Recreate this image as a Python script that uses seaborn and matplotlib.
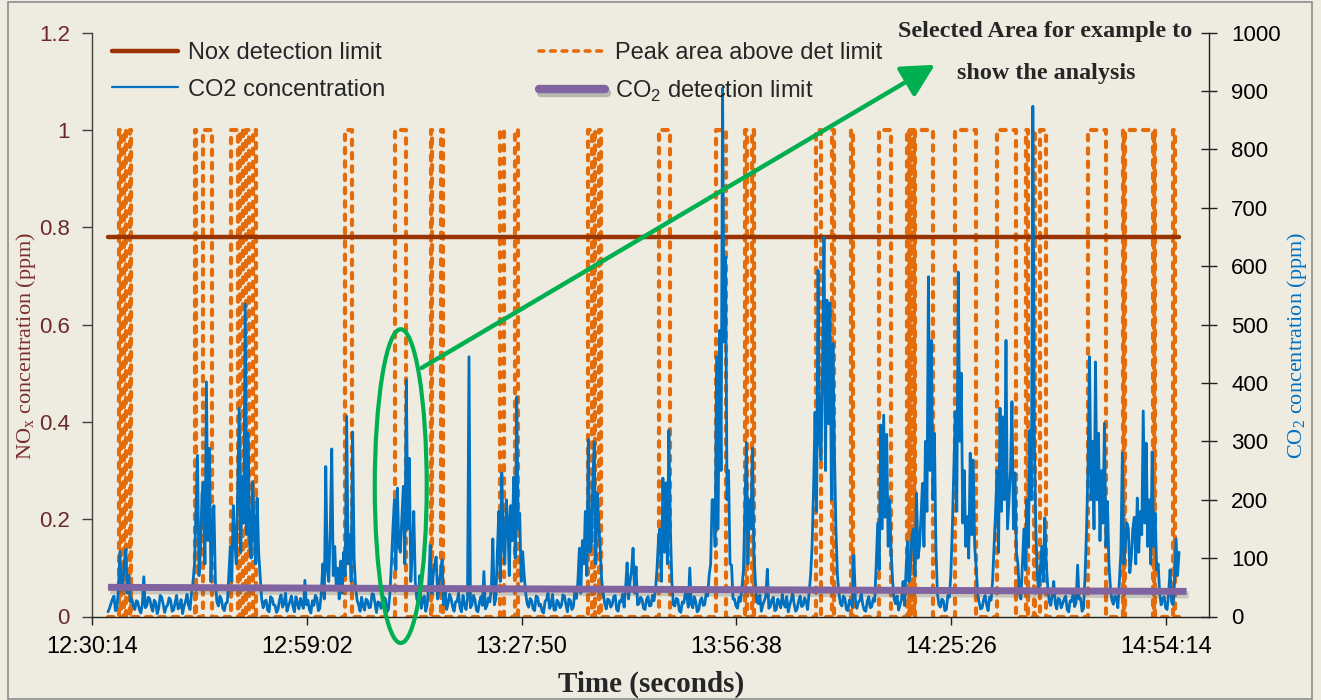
import matplotlib
matplotlib.use("Agg")
import numpy as np
import pandas as pd
import matplotlib.pyplot as plt
import matplotlib.patheffects as pe
from matplotlib.patches import Ellipse, Rectangle
from matplotlib.lines import Line2D
from matplotlib.ticker import FixedLocator, FuncFormatter
import seaborn as sns

# ---------------------------------------------------------------- data
# CO2 analyser log: one reading every 12 s starting at 12:32:23 (ppm)
co2_start = "12:32:23"
co2_step_s = 12
co2_ppm = [
    8, 14, 22, 30, 35, 10, 15, 48, 111, 45, 60, 95, 115, 40, 70, 25, 30, 18, 12, 27,
    25, 12, 6, 20, 68, 15, 18, 33, 30, 17, 9, 28, 24, 5, 14, 36, 33, 21, 7, 16,
    20, 32, 28, 9, 11, 24, 36, 13, 16, 29, 5, 18, 26, 38, 19, 12, 40, 60, 90, 180,
    276, 70, 110, 210, 230, 90, 402, 130, 288, 60, 150, 190, 60, 25, 18, 35, 30, 14, 10, 23,
    24, 70, 120, 60, 190, 130, 90, 220, 357, 110, 240, 160, 535, 140, 314, 120, 100, 230, 150, 90,
    203, 110, 70, 30, 15, 26, 28, 11, 8, 34, 31, 20, 19, 7, 12, 29, 37, 16, 22, 40,
    9, 18, 26, 35, 17, 8, 34, 23, 13, 31, 21, 14, 62, 20, 28, 12, 6, 27, 19, 36,
    32, 10, 14, 40, 90, 30, 257, 80, 60, 150, 287, 70, 120, 50, 83, 30, 95, 40, 110, 70,
    343, 90, 140, 60, 316, 100, 50, 28, 20, 9, 33, 18, 11, 30, 27, 15, 16, 39, 38, 22,
    7, 25, 24, 14, 18, 33, 30, 8, 12, 40, 90, 150, 200, 80, 220, 120, 110, 170, 223, 90,
    405, 150, 271, 60, 110, 180, 60, 30, 25, 70, 14, 28, 35, 9, 20, 55, 122, 40, 70, 90,
    102, 30, 60, 75, 97, 20, 45, 12, 22, 38, 31, 17, 9, 25, 26, 40, 15, 8, 36, 21,
    12, 30, 445, 15, 20, 36, 29, 11, 8, 24, 34, 19, 77, 13, 18, 32, 25, 50, 133, 20,
    30, 110, 180, 60, 246, 120, 90, 200, 165, 70, 190, 130, 239, 100, 376, 150, 177, 60, 111, 70,
    40, 22, 16, 31, 27, 13, 10, 35, 33, 18, 21, 9, 6, 26, 29, 40, 14, 19, 38, 11,
    11, 28, 24, 15, 19, 37, 35, 20, 8, 30, 27, 12, 17, 45, 31, 60, 117, 40, 130, 90,
    180, 70, 303, 110, 120, 230, 299, 90, 211, 160, 114, 60, 40, 22, 13, 30, 28, 16, 20, 34,
    36, 12, 9, 27, 25, 38, 16, 50, 92, 30, 60, 80, 117, 40, 85, 20, 22, 33, 30, 14,
    12, 29, 34, 18, 19, 36, 27, 45, 80, 130, 150, 60, 237, 110, 229, 90, 319, 150, 60, 20,
    18, 31, 29, 10, 7, 25, 23, 39, 37, 16, 83, 22, 15, 34, 26, 8, 11, 27, 32, 19,
    20, 40, 35, 70, 90, 200, 200, 120, 445, 150, 490, 250, 905, 470, 616, 200, 250, 90, 88, 30,
    30, 18, 14, 33, 26, 50, 80, 190, 298, 90, 200, 150, 288, 110, 60, 25, 22, 37, 9, 20,
    27, 35, 81, 14, 17, 28, 33, 10, 12, 30, 24, 15, 38, 22, 16, 34, 8, 19, 29, 40,
    21, 9, 13, 27, 35, 17, 19, 32, 26, 12, 40, 70, 120, 220, 350, 180, 593, 300, 268, 420,
    650, 250, 542, 330, 537, 200, 468, 280, 150, 70, 40, 22, 18, 35, 31, 12, 10, 28, 25, 16,
    105, 30, 14, 24, 28, 39, 20, 11, 9, 26, 34, 15, 17, 31, 26, 90, 160, 80, 328, 150,
    345, 170, 312, 120, 200, 110, 60, 30, 22, 35, 11, 20, 30, 60, 19, 80, 128, 60, 90, 140,
    150, 70, 211, 100, 120, 170, 228, 120, 300, 180, 582, 250, 473, 200, 314, 120, 40, 20, 16, 30,
    27, 10, 12, 36, 33, 70, 150, 250, 350, 180, 590, 300, 417, 160, 250, 120, 171, 100, 280, 140,
    268, 120, 85, 40, 24, 13, 15, 29, 36, 20, 10, 33, 28, 60, 120, 180, 250, 110, 357, 180,
    342, 200, 473, 150, 200, 250, 368, 150, 246, 110, 90, 40, 30, 90, 150, 80, 200, 120, 319, 200,
    874, 300, 150, 70, 40, 80, 120, 60, 169, 90, 50, 25, 19, 38, 60, 22, 13, 31, 29, 15,
    22, 30, 35, 12, 8, 27, 26, 40, 17, 24, 88, 30, 31, 9, 14, 70, 150, 260, 445, 200,
    300, 150, 436, 200, 314, 130, 250, 160, 331, 120, 197, 90, 50, 28, 21, 35, 33, 15, 60, 110,
    280, 90, 120, 160, 151, 75, 100, 150, 170, 90, 203, 110, 180, 140, 352, 160, 297, 120, 200, 90,
    282, 120, 177, 80, 90, 40, 20, 30, 34, 15, 12, 40, 80, 25, 20, 60, 133, 70, 110,
]

# Flagged intervals: peak area above the detection limit (start / stop)
peak_on = [
    "12:33:55", "12:34:35", "12:35:20", "12:44:02", "12:45:07", "12:48:56",
    "12:50:08", "12:50:52", "12:51:52", "13:04:08", "13:10:50", "13:15:39",
    "13:17:03", "13:24:54", "13:26:58", "13:36:41", "13:37:29", "13:38:13",
    "13:46:19", "13:53:58", "13:57:51", "13:58:47", "14:07:21", "14:09:30",
    "14:12:02", "14:15:48", "14:19:33", "14:19:53", "14:20:13", "14:20:33",
    "14:25:58", "14:31:36", "14:35:29", "14:36:29", "14:37:22", "14:43:47",
    "14:48:29", "14:48:45", "14:52:38", "14:55:14",
]
peak_off = [
    "12:34:07", "12:34:47", "12:35:32", "12:44:14", "12:46:19", "12:49:48",
    "12:50:28", "12:51:16", "12:52:17", "13:05:04", "13:12:18", "13:15:51",
    "13:17:15", "13:25:26", "13:27:18", "13:37:13", "13:37:41", "13:38:33",
    "13:47:48", "13:55:18", "13:58:03", "13:58:59", "14:08:01", "14:09:46",
    "14:12:15", "14:17:24", "14:19:45", "14:20:05", "14:20:25", "14:22:58",
    "14:28:47", "14:34:09", "14:35:41", "14:36:41", "14:38:10", "14:46:12",
    "14:48:37", "14:52:30", "14:52:46", "14:55:27",
]
peak_level = 1.0

# Detection limits
nox_limit_ppm = 0.78
co2_limit_ppm = [50, 43]
run_span = ["12:32:23", "14:56:00"]

# Time axis (fractions of a day, Excel style) and value axes
axis_day_min, axis_day_max, axis_day_step = 0.521, 0.625, 0.02
nox_ticks = [0, 0.2, 0.4, 0.6, 0.8, 1.0, 1.2]
co2_ticks = list(range(0, 1001, 100))

# ---------------------------------------------------------------- helpers
def clock(s):
    h, m, sec = (int(p) for p in s.split(":"))
    return h * 3600 + m * 60 + sec


def hms(v, _pos=None):
    v = int(np.floor(v + 1e-6))
    return f"{v // 3600:02d}:{(v % 3600) // 60:02d}:{v % 60:02d}"


t0 = clock(co2_start)
co2_df = pd.DataFrame({
    "t": [t0 + i * co2_step_s for i in range(len(co2_ppm))],
    "ppm": co2_ppm,
})

run_t = [clock(s) for s in run_span]
wave_t, wave_v = [run_t[0]], [0.0]
for on, off in zip(peak_on, peak_off):
    a, b = clock(on), clock(off)
    wave_t += [a, a, b, b]
    wave_v += [0.0, peak_level, peak_level, 0.0]
wave_t.append(run_t[1])
wave_v.append(0.0)
wave_df = pd.DataFrame({"t": wave_t, "v": wave_v})

nox_df = pd.DataFrame({"t": run_t, "v": [nox_limit_ppm] * 2})
co2lim_df = pd.DataFrame({"t": [run_t[0], run_t[1] + 60], "v": co2_limit_ppm})

# ---------------------------------------------------------------- style
sns.set_theme(style="white")
plt.rcParams["font.family"] = ["Liberation Sans", "DejaVu Sans"]
plt.rcParams["mathtext.fontset"] = "custom"

BG = "#EEECE1"
ORANGE = "#E46C0A"
BROWN = "#993300"
BLUE = "#0070C0"
PURPLE = "#8064A2"
GREEN = "#00B050"
MAROON = "#6B2A2A"

W, H = 1321, 700
fig = plt.figure(figsize=(W / 100, H / 100), dpi=100, facecolor=BG)
ax = fig.add_axes([92 / W, 1 - 616.5 / H, (1209 - 92) / W, (616.5 - 32.7) / H])
ax.set_facecolor(BG)
ax2 = ax.twinx()

# peak-area square wave (left axis)
sns.lineplot(data=wave_df, x="t", y="v", estimator=None, sort=False,
             color=ORANGE, lw=3.0, ax=ax, legend=False)
wave_line = ax.lines[-1]
wave_line.set_dashes((1.3, 1.9))
wave_line.set_dash_capstyle("round")

# NOx detection limit (left axis)
sns.lineplot(data=nox_df, x="t", y="v", estimator=None, color=BROWN,
             lw=3.2, ax=ax, legend=False)
ax.lines[-1].set_solid_capstyle("round")

# CO2 concentration (right axis)
sns.lineplot(data=co2_df, x="t", y="ppm", estimator=None, sort=False,
             color=BLUE, lw=2.0, ax=ax2, legend=False)

# CO2 detection limit (right axis) with a soft drop shadow
sns.lineplot(data=co2lim_df, x="t", y="v", estimator=None, color=PURPLE,
             lw=5, ax=ax2, legend=False)
ax2.lines[-1].set_path_effects([
    pe.SimpleLineShadow(offset=(1.5, -2.5), shadow_color="#555555", alpha=0.25),
    pe.Normal()])
ax2.lines[-1].set_solid_capstyle("butt")

# ---------------------------------------------------------------- axes
ax.set_xlim(axis_day_min * 86400, axis_day_max * 86400)
xt = [axis_day_min * 86400 + k * axis_day_step * 86400 for k in range(6)]
ax.xaxis.set_major_locator(FixedLocator(xt))
ax.xaxis.set_major_formatter(FuncFormatter(hms))

ax.set_ylim(0, 1.2)
ax.yaxis.set_major_locator(FixedLocator(nox_ticks))
ax.yaxis.set_major_formatter(FuncFormatter(lambda v, p: f"{v:g}"))
ax2.set_ylim(0, 1000)
ax2.yaxis.set_major_locator(FixedLocator(co2_ticks))

ax.set_xlabel("")
ax.set_ylabel("")
ax2.set_ylabel("")

for a in (ax, ax2):
    a.spines["top"].set_visible(False)
ax.spines["right"].set_visible(False)
ax2.spines["left"].set_visible(False)
ax2.spines["bottom"].set_visible(False)
ax.spines["left"].set_color("#404040")
ax.spines["bottom"].set_color("#202020")
ax2.spines["right"].set_color("#202020")
for s in ("left", "bottom"):
    ax.spines[s].set_linewidth(1.0)
ax2.spines["right"].set_linewidth(1.0)

ax.tick_params(axis="x", direction="out", length=6, width=1, color="#202020",
               labelsize=17, pad=8, labelcolor="black", bottom=True)
ax.tick_params(axis="y", direction="out", length=7, width=1, color="#404040",
               labelsize=16, pad=9, labelcolor=MAROON, left=True)
ax2.tick_params(axis="y", direction="inout", length=12, width=1, color="#202020",
                labelsize=16, pad=10, labelcolor="black", right=True)

# ---------------------------------------------------------------- titles
serif = ["Liberation Serif", "DejaVu Serif"]
fig.text(651 / W, 1 - 684 / H, "Time (seconds)", ha="center", va="center",
         fontsize=21, fontweight="bold", family=serif)
fig.text(26 / W, 1 - 346 / H, r"NO$_\mathregular{x}$ concentration (ppm)",
         rotation=90, ha="center", va="center", fontsize=16, color="#7B2C2C",
         family=serif)
fig.text(1297 / W, 1 - 345 / H, r"CO$_\mathregular{2}$ concentration (ppm)",
         rotation=90, ha="center", va="center", fontsize=16, color=BLUE,
         family=serif)

# ---------------------------------------------------------------- legend
handles = [
    Line2D([], [], color=BROWN, lw=3.2, solid_capstyle="round"),
    Line2D([], [], color=BLUE, lw=1.6),
    Line2D([], [], color=ORANGE, lw=2.6, dashes=(1.3, 1.9), dash_capstyle="round"),
    Line2D([], [], color=PURPLE, lw=6,
           path_effects=[pe.SimpleLineShadow(offset=(1.5, -2.5), alpha=0.25),
                         pe.Normal()]),
]
labels = ["Nox detection limit", "CO2 concentration",
          "Peak area above det limit", r"CO$_\mathregular{2}$ detection limit"]
fig.legend(handles, labels, loc="upper left", ncol=2, frameon=False,
           bbox_to_anchor=(112 / W, 1 - 42 / H), borderpad=0, borderaxespad=0,
           fontsize=17, handlelength=2.8, handletextpad=0.42,
           columnspacing=6.5, labelspacing=0.62)

# ---------------------------------------------------------------- annotation
sel_center = (clock("13:11:38"), 0.268)
sel_w, sel_h = 418, 0.645
ell = Ellipse(sel_center, sel_w, sel_h, transform=ax.transData, fill=False,
              edgecolor=GREEN, lw=3, zorder=20, clip_on=False)
ax2.add_artist(ell)
ax2.annotate("", xy=(clock("14:23:15"), 1.134), xycoords=ax.transData,
             xytext=(clock("13:14:27"), 0.511), textcoords=ax.transData,
             arrowprops=dict(arrowstyle="-|>,head_length=0.8,head_width=0.42",
                             color=GREEN, lw=3.2, mutation_scale=25,
                             shrinkA=0, shrinkB=0),
             annotation_clip=False, zorder=21)
fig.text(1045 / W, 1 - 32 / H, "Selected Area for example to", ha="center",
         va="center", fontsize=17.4, fontweight="bold", family=serif)
fig.text(1046 / W, 1 - 73 / H, "show the analysis", ha="center",
         va="center", fontsize=17.4, fontweight="bold", family=serif)

# outer frame
fig.add_artist(Rectangle((7.5 / W, 1.5 / H), (1312 - 7.5) / W, (698.5 - 1.5) / H,
                         transform=fig.transFigure, fill=False,
                         edgecolor="#8C8C8C", lw=1.2))

fig.savefig("out.png", dpi=100, facecolor=BG)
